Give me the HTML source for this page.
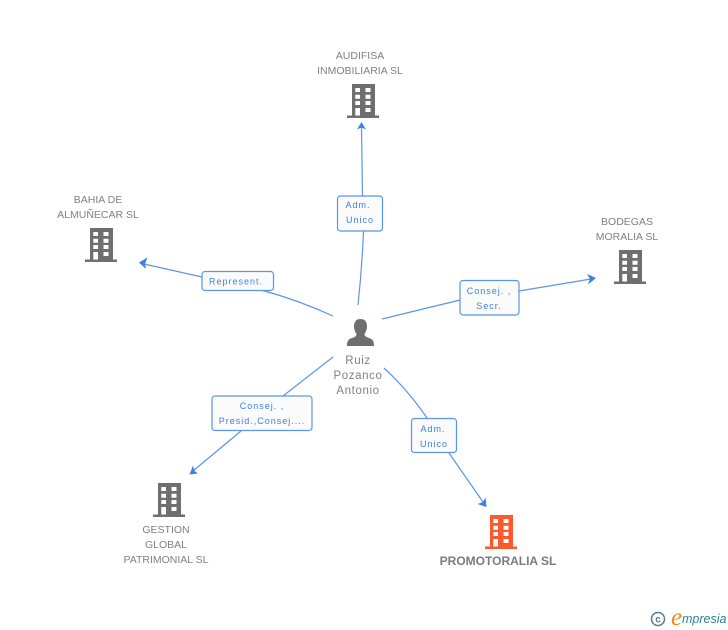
<!DOCTYPE html>
<html><head><meta charset="utf-8"><style>
html,body{margin:0;padding:0;background:#fff}
svg{display:block}
text{font-family:"Liberation Sans",sans-serif}
.n{font-size:10.5px;fill:#808080;text-anchor:middle}
.l{font-size:9px;fill:#3c80e4;text-anchor:middle;letter-spacing:1px}
.b{fill:#fbfbfb;stroke:#5b95e8;stroke-width:1.2}
.c{fill:none;stroke:#5b95e8;stroke-width:1.2}
.a{fill:#3c80e4}
</style></head><body>
<svg width="728" height="630" viewBox="0 0 728 630" xmlns="http://www.w3.org/2000/svg">
<defs>
<g id="bd">
<path fill-rule="evenodd" d="M5 0H28V31.5H32V34H0V31.5H5ZM8.300 4V8H13V4ZM18.500 4V8H23.500V4ZM8.300 10.700V14.700H13V10.700ZM18.500 10.700V14.700H23.500V10.700ZM8.300 17V21H13V17ZM18.500 17V21H23.500V17ZM8.300 24V31.500H13V24ZM18.500 24V28H23.500V24Z"/>
</g>
</defs>

<path class="c" d="M358 305Q362 268 363.500 231"/>
<path class="c" d="M362.500 196Q362 160 361.500 127"/>
<path class="a" d="M361.500 122L366 129.500L361.500 127.500L357 129.500Z"/>

<path class="c" d="M382 319L460 300"/>
<path class="c" d="M519 291L591 279"/>
<path class="a" d="M596 278L588 284.500L590 279L587 274Z"/>

<path class="c" d="M333 316Q298 300 261 290"/>
<path class="c" d="M202 277L144 264"/>
<path class="a" d="M139 262.500L147.500 257.500L145 264L146 269Z"/>

<path class="c" d="M333 357L283 396"/>
<path class="c" d="M241 431L193 471"/>
<path class="a" d="M189.500 474.500L193 465.500L194.500 471L198 473.500Z"/>

<path class="c" d="M384 368Q408 390 427 418"/>
<path class="c" d="M449 453L483 502"/>
<path class="a" d="M486.500 507L477.500 504L483 502L485.500 497.500Z"/>

<rect class="b" x="337.500" y="196" width="45" height="35" rx="3"/>
<text class="l" x="358" y="208">Adm.</text>
<text class="l" x="360" y="223">Unico</text>

<rect class="b" x="460" y="280.500" width="59" height="34.500" rx="3"/>
<text class="l" x="489" y="294">Consej. ,</text>
<text class="l" x="489" y="309">Secr.</text>

<rect class="b" x="202" y="271.500" width="71.500" height="19" rx="3"/>
<text class="l" x="236" y="284.500">Represent.</text>

<rect class="b" x="212" y="396" width="100" height="34.500" rx="3"/>
<text class="l" x="262" y="409">Consej. ,</text>
<text class="l" x="262" y="424">Presid.,Consej....</text>

<rect class="b" x="411.500" y="418.500" width="45" height="34" rx="3"/>
<text class="l" x="433" y="432">Adm.</text>
<text class="l" x="434" y="447">Unico</text>

<use href="#bd" x="347" y="84" fill="#6f6f6f"/>
<use href="#bd" x="85" y="228" fill="#6f6f6f"/>
<use href="#bd" x="614" y="250" fill="#6f6f6f"/>
<use href="#bd" x="153" y="483" fill="#6f6f6f"/>
<use href="#bd" x="485" y="515" fill="#fa5a2e"/>

<path fill="#6f6f6f" d="M360.500 319C365 319 367 322 367 326.500C367 330 365.500 332.500 364.500 334C364.500 336 366 337 369 338C372.500 339 374 341 374 346H347C347 341 348.500 339 352 338C355 337 356.500 336 356.500 334C355.500 332.500 354 330 354 326.500C354 322 356 319 360.500 319Z"/>

<text class="n" x="360" y="59">AUDIFISA</text>
<text class="n" x="360" y="74">INMOBILIARIA SL</text>
<text class="n" x="98" y="203">BAHIA DE</text>
<text class="n" x="98" y="218">ALMUÑECAR SL</text>
<text class="n" x="627" y="225">BODEGAS</text>
<text class="n" x="627" y="240">MORALIA SL</text>
<text class="n" x="166" y="533">GESTION</text>
<text class="n" x="166" y="548">GLOBAL</text>
<text class="n" x="166" y="563">PATRIMONIAL SL</text>
<text class="n" x="358" y="364" style="font-size:11.500px;letter-spacing:.6px">Ruiz</text>
<text class="n" x="358" y="379" style="font-size:11.500px;letter-spacing:.6px">Pozanco</text>
<text class="n" x="358" y="394" style="font-size:11.500px;letter-spacing:.6px">Antonio</text>
<text x="498" y="565" text-anchor="middle" style="font-size:12px;font-weight:bold;fill:#7b7b7b">PROMOTORALIA SL</text>

<circle cx="658" cy="619" r="6.500" fill="none" stroke="#4a8398" stroke-width="1.500"/>
<text x="658" y="622.500" text-anchor="middle" style="font-size:10px;font-weight:bold;fill:#4a8398">c</text>
<text x="671" y="625" style="font-family:'Liberation Serif',serif;font-size:25px;font-style:italic;fill:#f08a1d">e</text>
<text x="682" y="623" style="font-size:12.500px;font-style:italic;fill:#2f7f96">mpresia</text>
</svg>
</body></html>
